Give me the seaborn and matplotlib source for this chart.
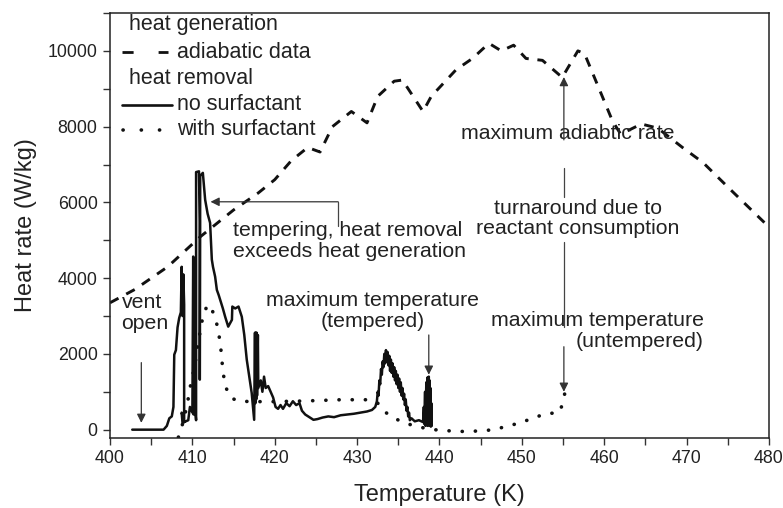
import matplotlib
matplotlib.use("Agg")
import matplotlib.pyplot as plt
import seaborn as sns

# adiabatic heat generation (dashed)
adia_T = [400.0, 403.0, 407.0, 411.0, 415.0, 418.0, 420.0, 422.0, 424.0, 425.5,
          427.0, 429.3, 431.2, 432.5, 434.5, 435.5, 438.0, 439.0, 442.0, 444.0,
          446.0, 447.5, 449.0, 450.5, 452.5, 454.9, 456.8, 457.6, 461.0, 462.0,
          464.5, 466.5, 469.5, 472.0, 475.5, 480.0]
adia_q = [3350, 3700, 4300, 5100, 5800, 6250, 6600, 7100, 7450, 7330,
          8000, 8400, 8100, 8800, 9200, 9230, 8400, 8800, 9500, 9800,
          10200, 10000, 10150, 9800, 9750, 9300, 10000, 9930, 8150, 7800,
          8070, 7960, 7450, 7050, 6300, 5350]

# heat removal, no surfactant (solid)
nosurf_T = [402.7, 406.5, 406.9, 407.2, 407.5, 407.7, 407.8, 408.0, 408.2, 408.4,
            408.6, 408.7, 408.8, 408.9, 409.0, 409.0, 408.7, 408.8, 409.5, 409.7,
            410.0, 410.1, 410.15, 410.2, 410.3, 410.45, 410.45, 410.8, 410.9, 410.9,
            410.95, 411.27, 411.55, 411.85, 412.15, 412.36, 412.5, 412.76, 412.97, 413.2,
            413.37, 413.7, 413.98, 414.35, 414.8, 414.85, 415.2, 415.6, 416.0, 416.3,
            416.6, 417.2, 417.5, 417.6, 417.65, 417.7, 417.75, 417.8, 417.85, 417.95,
            418.0, 418.3, 418.5, 418.7, 418.9, 419.2, 419.5, 419.8, 420.1, 420.4,
            420.7, 421.0, 421.4, 421.8, 422.2, 422.6, 423.0, 423.3, 423.7, 424.2,
            424.7, 425.2, 425.8, 426.5, 427.2, 428.0, 428.8, 429.6, 430.4, 431.2,
            431.8, 432.2, 432.4, 432.5, 432.6, 432.7, 432.8, 432.9, 433.0, 433.1,
            433.2, 433.3, 433.4, 433.5, 433.6, 433.7, 433.8, 433.9, 434.0, 434.1,
            434.2, 434.3, 434.4, 434.5, 434.6, 434.7, 434.8, 434.9, 435.0, 435.1,
            435.2, 435.3, 435.4, 435.5, 435.6, 435.7, 435.8, 435.9, 436.0, 436.1,
            436.2, 436.3, 436.4, 436.6, 437.0, 437.5, 438.0, 438.1, 438.15, 438.25,
            438.3, 438.4, 438.45, 438.55, 438.6, 438.7, 438.75, 438.8, 438.85, 438.9,
            438.95, 439.0, 439.05]
nosurf_q = [0, 0, 100, 300, 350, 600, 1980, 2100, 2700, 2950,
            3100, 4300, 3000, 4100, 3300, 200, 450, 180, 250, 600,
            450, 4570, 400, 4300, 600, 250, 6800, 6820, 5500, 1320,
            6700, 6780, 6070, 5700, 5460, 4490, 4300, 4040, 3690, 3550,
            3430, 3200, 2980, 2720, 2900, 3250, 3200, 3250, 2980, 2500,
            1850, 970, 260, 2560, 700, 2560, 800, 2560, 900, 2500,
            1100, 1300, 1000, 1400, 1100, 1150, 1000, 850, 600, 550,
            650, 550, 700, 620, 750, 650, 700, 500, 400, 330,
            260, 280, 320, 350, 330, 380, 400, 420, 450, 480,
            520, 600, 750, 1000, 900, 1300, 1200, 1600, 1450, 1800,
            1650, 2000, 1750, 2100, 1800, 2050, 1700, 1950, 1550, 1850,
            1500, 1750, 1400, 1650, 1300, 1550, 1200, 1450, 1100, 1350,
            1000, 1250, 900, 1100, 800, 950, 650, 800, 500, 600,
            350, 450, 250, 300, 220, 250, 200, 600, 150, 1000,
            100, 1250, 120, 1380, 100, 1400, 150, 1300, 100, 1100,
            80, 700, 100]

# heat removal, with surfactant (dotted)
surf_T = [408.3, 408.5, 409.0, 409.4, 409.8, 410.3, 410.7, 411.2, 411.8, 412.3,
          412.8, 413.2, 413.5, 413.7, 414.0, 414.6, 415.5, 417.0, 420.0, 424.0,
          428.0, 431.5, 432.5, 433.3, 434.3, 435.3, 436.5, 438.0, 439.3, 441.1,
          443.1, 445.2, 446.6, 448.0, 449.8, 451.4, 452.9, 454.5, 454.8, 455.1,
          455.2]
surf_q = [-200, -80, 300, 700, 1200, 1700, 2300, 2900, 3300, 3200,
          2950, 2550, 2050, 1550, 1150, 850, 760, 740, 740, 760,
          790, 790, 700, 480, 330, 220, 130, 50, 0, -30,
          -50, -30, 0, 80, 180, 310, 420, 450, 600, 850,
          950]

x_ticks = [400, 410, 420, 430, 440, 450, 460, 470, 480]
y_ticks = [0, 2000, 4000, 6000, 8000, 10000]

sns.set_theme(style="ticks")
plt.rcParams["font.family"] = ["Liberation Sans", "DejaVu Sans"]

INK = "#111111"
TXT = "#222222"

fig = plt.figure(figsize=(7.83, 5.08), dpi=100)
ax = fig.add_axes([0.1405, 0.1378, 0.8416, 0.8366])

sns.lineplot(x=adia_T, y=adia_q, sort=False, estimator=None, ax=ax,
             color=INK, lw=2.1, linestyle=(0, (3.3, 3.0)),
             dash_capstyle="butt")
sns.lineplot(x=nosurf_T, y=nosurf_q, sort=False, estimator=None, ax=ax,
             color=INK, lw=1.8)
sns.lineplot(x=surf_T, y=surf_q, sort=False, estimator=None, ax=ax,
             color=INK, lw=2.6, linestyle=(0, (0.05, 3.6)),
             dash_capstyle="round")

ax.set_xlim(400, 480)
ax.set_ylim(-220, 11000)
ax.set_xticks(x_ticks)
ax.set_yticks(y_ticks)
ax.set_xticks([t + 5 for t in x_ticks[:-1]], minor=True)
ax.set_yticks([t + 1000 for t in y_ticks], minor=True)
ax.tick_params(which="both", direction="out", length=5, width=1.0,
               color="#333333", labelsize=12.8, labelcolor=TXT, pad=4)
for s in ax.spines.values():
    s.set_linewidth(1.1)
    s.set_color("#222222")

ax.set_xlabel("Temperature (K)", fontsize=17, color=TXT, labelpad=12)
ax.set_ylabel("Heat rate (W/kg)", fontsize=17, color=TXT, labelpad=8)

# legend drawn by hand (group headers sit left of the entry labels)
fs_leg = 15.5
tr = ax.transAxes
ax.text(0.029, 0.972, "heat generation", transform=tr, fontsize=fs_leg,
        color=TXT, va="center", ha="left")
ax.plot([0.018, 0.088], [0.908, 0.908], transform=tr, color=INK, lw=2.0,
        dashes=[4.0, 9.0])
ax.text(0.101, 0.908, "adiabatic data", transform=tr, fontsize=fs_leg,
        color=TXT, va="center", ha="left")
ax.text(0.029, 0.845, "heat removal", transform=tr, fontsize=fs_leg,
        color=TXT, va="center", ha="left")
ax.plot([0.018, 0.094], [0.784, 0.784], transform=tr, color=INK, lw=1.9)
ax.text(0.101, 0.784, "no surfactant", transform=tr, fontsize=fs_leg,
        color=TXT, va="center", ha="left")
ax.plot([0.020, 0.080], [0.725, 0.725], transform=tr, color=INK, lw=2.6,
        dashes=[0.05, 5.0], dash_capstyle="round")
ax.text(0.101, 0.725, "with surfactant", transform=tr, fontsize=fs_leg,
        color=TXT, va="center", ha="left")

# annotations
fs = 15.3
arrow = dict(arrowstyle="-|>", color="#333333", lw=0.9, mutation_scale=13,
             shrinkA=0, shrinkB=0)
thin = dict(color="#444444", lw=0.9)

ax.text(401.4, 3075, "vent\nopen", fontsize=fs, color=TXT, ha="left",
        va="center", linespacing=1.15)
ax.annotate("", xy=(403.8, 180), xytext=(403.8, 1770), arrowprops=arrow)

ax.text(414.95, 4985, "tempering, heat removal\nexceeds heat generation",
        fontsize=fs, color=TXT, ha="left", va="center", linespacing=1.1)
ax.plot([427.7, 427.7], [5380, 6016], **thin)
ax.annotate("", xy=(412.2, 6016), xytext=(427.7, 6016), arrowprops=arrow)

ax.text(431.9, 3125, "maximum temperature\n(tempered)", fontsize=fs,
        color=TXT, ha="center", va="center", linespacing=1.15)
ax.annotate("", xy=(438.7, 1450), xytext=(438.7, 2500), arrowprops=arrow)

ax.text(455.6, 7830, "maximum adiabtic rate", fontsize=fs, color=TXT,
        ha="center", va="center")
ax.annotate("", xy=(455.1, 9310), xytext=(455.1, 7650), arrowprops=arrow)
ax.plot([455.1, 455.1], [6150, 6910], **thin)

ax.text(456.8, 5570, "turnaround due to\nreactant consumption", fontsize=fs,
        color=TXT, ha="center", va="center", linespacing=1.1)
ax.plot([455.1, 455.1], [2720, 4960], **thin)

ax.text(472.1, 2610, "maximum temperature\n(untempered)", fontsize=fs,
        color=TXT, ha="right", va="center", multialignment="right",
        linespacing=1.15)
ax.annotate("", xy=(455.1, 1000), xytext=(455.1, 2190), arrowprops=arrow)

fig.savefig("out.png", dpi=100)
